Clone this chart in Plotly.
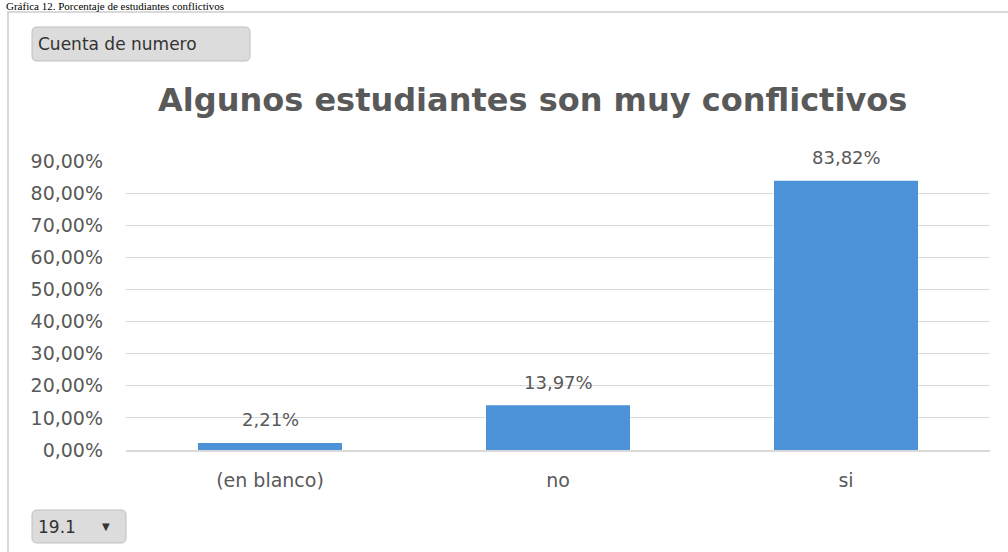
import plotly.graph_objects as go

categories = ["(en blanco)", "no", "si"]
percent = [2.21, 13.97, 83.82]
y_tickvals = [0, 10, 20, 30, 40, 50, 60, 70, 80, 90]
y_ticktext = [f"{v},00%" for v in y_tickvals]
labels = [f"{v:.2f}".replace(".", ",") + "%" for v in percent]

W, H = 1008, 552
L, R, T, B = 126, 18, 161, 102
PW, PH = W - L - R, H - T - B

def xp(px):
    return (px - L) / PW

def yp(py):
    return (H - B - py) / PH

def rounded(x0, y0, x1, y1, r):
    # rounded rectangle path in paper coords, inputs in pixels
    pts = [
        f"M {xp(x0 + r)},{yp(y0)}",
        f"L {xp(x1 - r)},{yp(y0)}",
        f"Q {xp(x1)},{yp(y0)} {xp(x1)},{yp(y0 + r)}",
        f"L {xp(x1)},{yp(y1 - r)}",
        f"Q {xp(x1)},{yp(y1)} {xp(x1 - r)},{yp(y1)}",
        f"L {xp(x0 + r)},{yp(y1)}",
        f"Q {xp(x0)},{yp(y1)} {xp(x0)},{yp(y1 - r)}",
        f"L {xp(x0)},{yp(y0 + r)}",
        f"Q {xp(x0)},{yp(y0)} {xp(x0 + r)},{yp(y0)}",
        "Z",
    ]
    return " ".join(pts)

GRAY = "#595959"
FONT = "DejaVu Sans"

fig = go.Figure(go.Bar(
    x=categories, y=percent, width=0.5,
    marker=dict(color="#4c92d8", line=dict(width=0)),
    hoverinfo="x+y",
))

shapes = [
    dict(type="rect", xref="paper", yref="paper", x0=xp(8), x1=xp(1015), y0=yp(560), y1=yp(12),
         line=dict(color="#d9d9d9", width=2), fillcolor="rgba(0,0,0,0)", layer="below"),
    dict(type="path", xref="paper", yref="paper", path=rounded(32, 27, 250, 61, 5),
         line=dict(color="#bfbfbf", width=1), fillcolor="#dcdcdc", layer="below"),
    dict(type="path", xref="paper", yref="paper", path=rounded(32, 510, 126, 543, 5),
         line=dict(color="#bfbfbf", width=1), fillcolor="#dcdcdc", layer="below"),
]

annotations = [
    dict(text="Gráfica 12. Porcentaje de estudiantes conflictivos", xref="paper", yref="paper",
         x=xp(4), y=yp(6), xanchor="left", yanchor="middle", showarrow=False,
         font=dict(family="Liberation Serif", size=11, color="#000000")),
    dict(text="Cuenta de numero", xref="paper", yref="paper", x=xp(36), y=yp(44),
         xanchor="left", yanchor="middle", showarrow=False,
         font=dict(family=FONT, size=17, color="#333333")),
    dict(text="19.1", xref="paper", yref="paper", x=xp(36), y=yp(527),
         xanchor="left", yanchor="middle", showarrow=False,
         font=dict(family=FONT, size=17, color="#333333")),
    dict(text="▼", xref="paper", yref="paper", x=xp(106), y=yp(526),
         xanchor="center", yanchor="middle", showarrow=False,
         font=dict(family="DejaVu Sans", size=10, color="#333333")),
    dict(text="<b>Algunos estudiantes son muy conflictivos</b>", xref="paper", yref="paper",
         x=xp(532), y=yp(100), xanchor="center", yanchor="middle", showarrow=False,
         font=dict(family=FONT, size=32, color=GRAY)),
]
for c, v, t in zip(categories, percent, labels):
    annotations.append(dict(text=t, x=c, y=v, xref="x", yref="y", showarrow=False,
                            yanchor="middle", yshift=23,
                            font=dict(family=FONT, size=18, color=GRAY)))

fig.update_layout(
    width=W, height=H,
    margin=dict(l=L, r=R, t=T, b=B, autoexpand=False),
    paper_bgcolor="white", plot_bgcolor="white",
    showlegend=False,
    shapes=shapes, annotations=annotations,
    xaxis=dict(showgrid=False, showline=True, linecolor="#d9d9d9", linewidth=2,
               tickfont=dict(family=FONT, size=19, color=GRAY), ticks="",
               ticklabelstandoff=12, fixedrange=True),
    yaxis=dict(range=[0, 90], tickvals=y_tickvals, ticktext=y_ticktext,
               showgrid=True, gridcolor="#d9d9d9", gridwidth=1, zeroline=False,
               tickfont=dict(family=FONT, size=19, color=GRAY), ticks="",
               ticklabelstandoff=22, fixedrange=True),
    font=dict(family=FONT),
)

fig.write_html("out.html")
